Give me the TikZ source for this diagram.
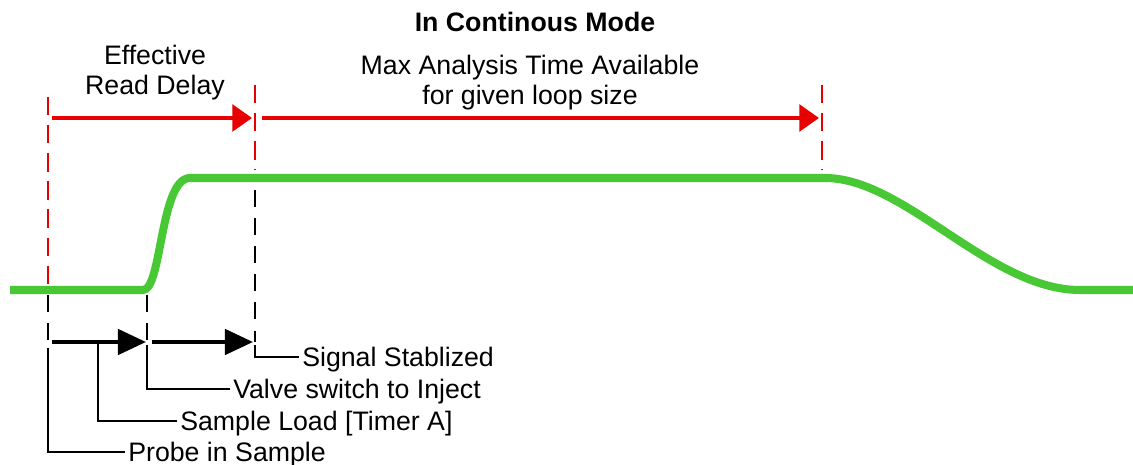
\documentclass[tikz,border=0pt]{standalone}
\usepackage{fontspec}
\setmainfont{Liberation Sans}
\usetikzlibrary{arrows.meta}

\definecolor{sigGreen}{RGB}{72,200,52}
\definecolor{markRed}{RGB}{232,0,0}

\begin{document}
\begin{tikzpicture}[x=0.025cm,y=-0.025cm,
    lbl/.style={anchor=west,inner sep=0pt,text height=0.72em,text depth=0pt},
    redmark/.style={draw=markRed,line width=2.1pt,dash pattern=on 13pt off 7pt},
    blackmark/.style={draw=black,line width=1.9pt,dash pattern=on 12pt off 8pt},
    redarrow/.style={draw=markRed,line width=2.6pt,-{Triangle[length=14pt,width=19pt]}},
    blackarrow/.style={draw=black,line width=2.9pt,-{Triangle[length=20pt,width=18pt]}},
    leader/.style={draw=black,line width=1.8pt}]
    \useasboundingbox (0,0) rectangle (1133,465);
    \fontsize{19pt}{21.3pt}\selectfont

    % titles
    \node[font=\bfseries] (title) at (535,22) {In Continous Mode};
    \node[align=center] (delay) at (155,73) {Effective\\Read Delay};
    \node[align=center] (maxtime) at (530,83) {Max Analysis Time Available\\for given loop size};

    % signal
    \draw[sigGreen,line width=5.7pt]
        (10,290) -- (143,290)
        .. controls (162,290) and (160,178) .. (190,178)
        -- (825,178)
        .. controls (905,178) and (990,290) .. (1080,290)
        -- (1133,290);

    % red guides and arrows
    \draw[redmark] (48,97) -- (48,285);
    \draw[redmark] (255,85) -- (255,170);
    \draw[redmark] (822,85) -- (822,170);
    \coordinate (r0) at (52,118);
    \coordinate (r1) at (252,118);
    \coordinate (r2) at (262,118);
    \coordinate (r3) at (819,118);
    \draw[redarrow] (r0) -- (r1);
    \draw[redarrow] (r2) -- (r3);

    % black guides and arrows
    \draw[blackmark] (48,295) -- (48,342);
    \draw[blackmark] (147,295) -- (147,342);
    \draw[blackmark] (255,190) -- (255,342);
    \coordinate (b0) at (52,342);
    \coordinate (b1) at (146,342);
    \coordinate (b2) at (152,342);
    \coordinate (b3) at (253,342);
    \draw[blackarrow] (b0) -- (b1);
    \draw[blackarrow] (b2) -- (b3);

    % event labels
    \node[lbl] (stable) at (302,357) {Signal Stablized};
    \node[lbl] (valve) at (233,389) {Valve switch to Inject};
    \node[lbl] (load) at (180,421) {Sample Load [Timer A]};
    \node[lbl] (probe) at (128,452) {Probe in Sample};
    \coordinate (tStable) at (255,345);
    \coordinate (tValve) at (147,345);
    \coordinate (tLoad) at (98,342);
    \coordinate (tProbe) at (48,348);
    \draw[leader] (tStable) |- ([xshift=-2pt]stable.west);
    \draw[leader] (tValve) |- ([xshift=-2pt]valve.west);
    \draw[leader] (tLoad) |- ([xshift=-2pt]load.west);
    \draw[leader] (tProbe) |- ([xshift=-2pt]probe.west);
\end{tikzpicture}
\end{document}
